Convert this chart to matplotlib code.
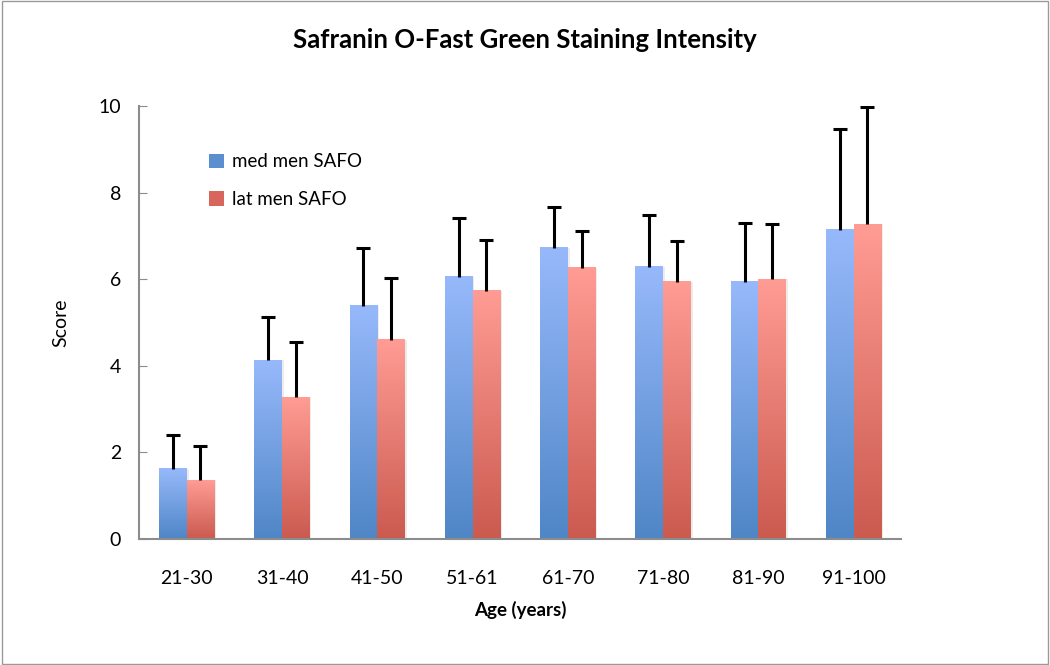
import numpy as np
import matplotlib.pyplot as plt
from matplotlib.colors import LinearSegmentedColormap
from matplotlib.patches import Patch

plt.rcParams['font.family'] = ['Lato', 'DejaVu Sans']

# Data
age_groups = ['21-30', '31-40', '41-50', '51-61', '61-70', '71-80', '81-90', '91-100']
med_scores = [1.62, 4.13, 5.39, 6.06, 6.73, 6.29, 5.94, 7.14]
med_err = [0.78, 1.00, 1.33, 1.35, 0.94, 1.20, 1.37, 2.34]
lat_scores = [1.36, 3.28, 4.60, 5.73, 6.27, 5.94, 6.00, 7.27]
lat_err = [0.79, 1.27, 1.43, 1.18, 0.85, 0.95, 1.28, 2.72]

series = {
    'med men SAFO': {'values': med_scores, 'err': med_err, 'offset': -0.145,
                     'top': '#97b9fb', 'bottom': '#4f86c6', 'legend': '#5b8fd0'},
    'lat men SAFO': {'values': lat_scores, 'err': lat_err, 'offset': 0.145,
                     'top': '#ff9c94', 'bottom': '#cb5a4f', 'legend': '#d8665c'},
}

fig = plt.figure(figsize=(10.5, 6.65), dpi=100)
ax = fig.add_axes([0.1324, 0.1895, 0.726, 0.651])

x = np.arange(len(age_groups))
width = 0.29
grad = np.linspace(1, 0, 256).reshape(-1, 1)

for name, s in series.items():
    cmap = LinearSegmentedColormap.from_list(name, [s['bottom'], s['top']])
    bars = ax.bar(x + s['offset'], s['values'], width, color='none', zorder=2)
    for b in bars:
        x0, y0 = b.get_x(), b.get_y()
        w, h = b.get_width(), b.get_height()
        # faint shadow on the right side
        ax.bar(x0 + w, h, 0.02, bottom=y0, align='edge',
               color='#ececec', zorder=1, linewidth=0)
        ax.imshow(grad, cmap=cmap, aspect='auto', vmin=0, vmax=1,
                  extent=(x0, x0 + w, y0, y0 + h), zorder=2)
    eb = ax.errorbar(x + s['offset'], s['values'], yerr=[np.zeros(len(x)), s['err']],
                     fmt='none', ecolor='black', elinewidth=2.2, capsize=5,
                     capthick=2.2, zorder=3)
    # keep only the upper caps
    eb[1][0].set_visible(False)

ax.set_xlim(-0.5, len(age_groups) - 0.5)
ax.set_ylim(0, 10)
ax.set_xticks(x)
ax.set_xticklabels(age_groups)
ax.set_yticks(np.arange(0, 11, 2))
ax.tick_params(axis='x', length=0, pad=22, labelsize=14)
ax.tick_params(axis='y', direction='in', length=6, color='#8c8c8c',
               pad=13, labelsize=14)

for side in ['top', 'right']:
    ax.spines[side].set_visible(False)
for side in ['left', 'bottom']:
    ax.spines[side].set_color('#8c8c8c')
    ax.spines[side].set_linewidth(1.5)

ax.set_xlabel('Age (years)', fontsize=13.5, fontweight='bold', labelpad=10)
ax.set_ylabel('Score', fontsize=14, labelpad=21)
fig.text(0.5, 0.94, 'Safranin O-Fast Green Staining Intensity',
         ha='center', va='center', fontsize=18.5, fontweight='bold')

handles = [Patch(facecolor=s['legend'], label=n) for n, s in series.items()]
ax.legend(handles=handles, loc='upper left', bbox_to_anchor=(0.07, 0.93),
          frameon=False, fontsize=13.5, handlelength=0.8, handleheight=0.8,
          handletextpad=0.4, labelspacing=1.1)

# thin frame round the whole picture
fig.patches.append(plt.Rectangle((0.002, 0.002), 0.996, 0.996,
                                 transform=fig.transFigure, fill=False,
                                 edgecolor='#9a9a9a', linewidth=1))

fig.savefig('out.png', dpi=100)
